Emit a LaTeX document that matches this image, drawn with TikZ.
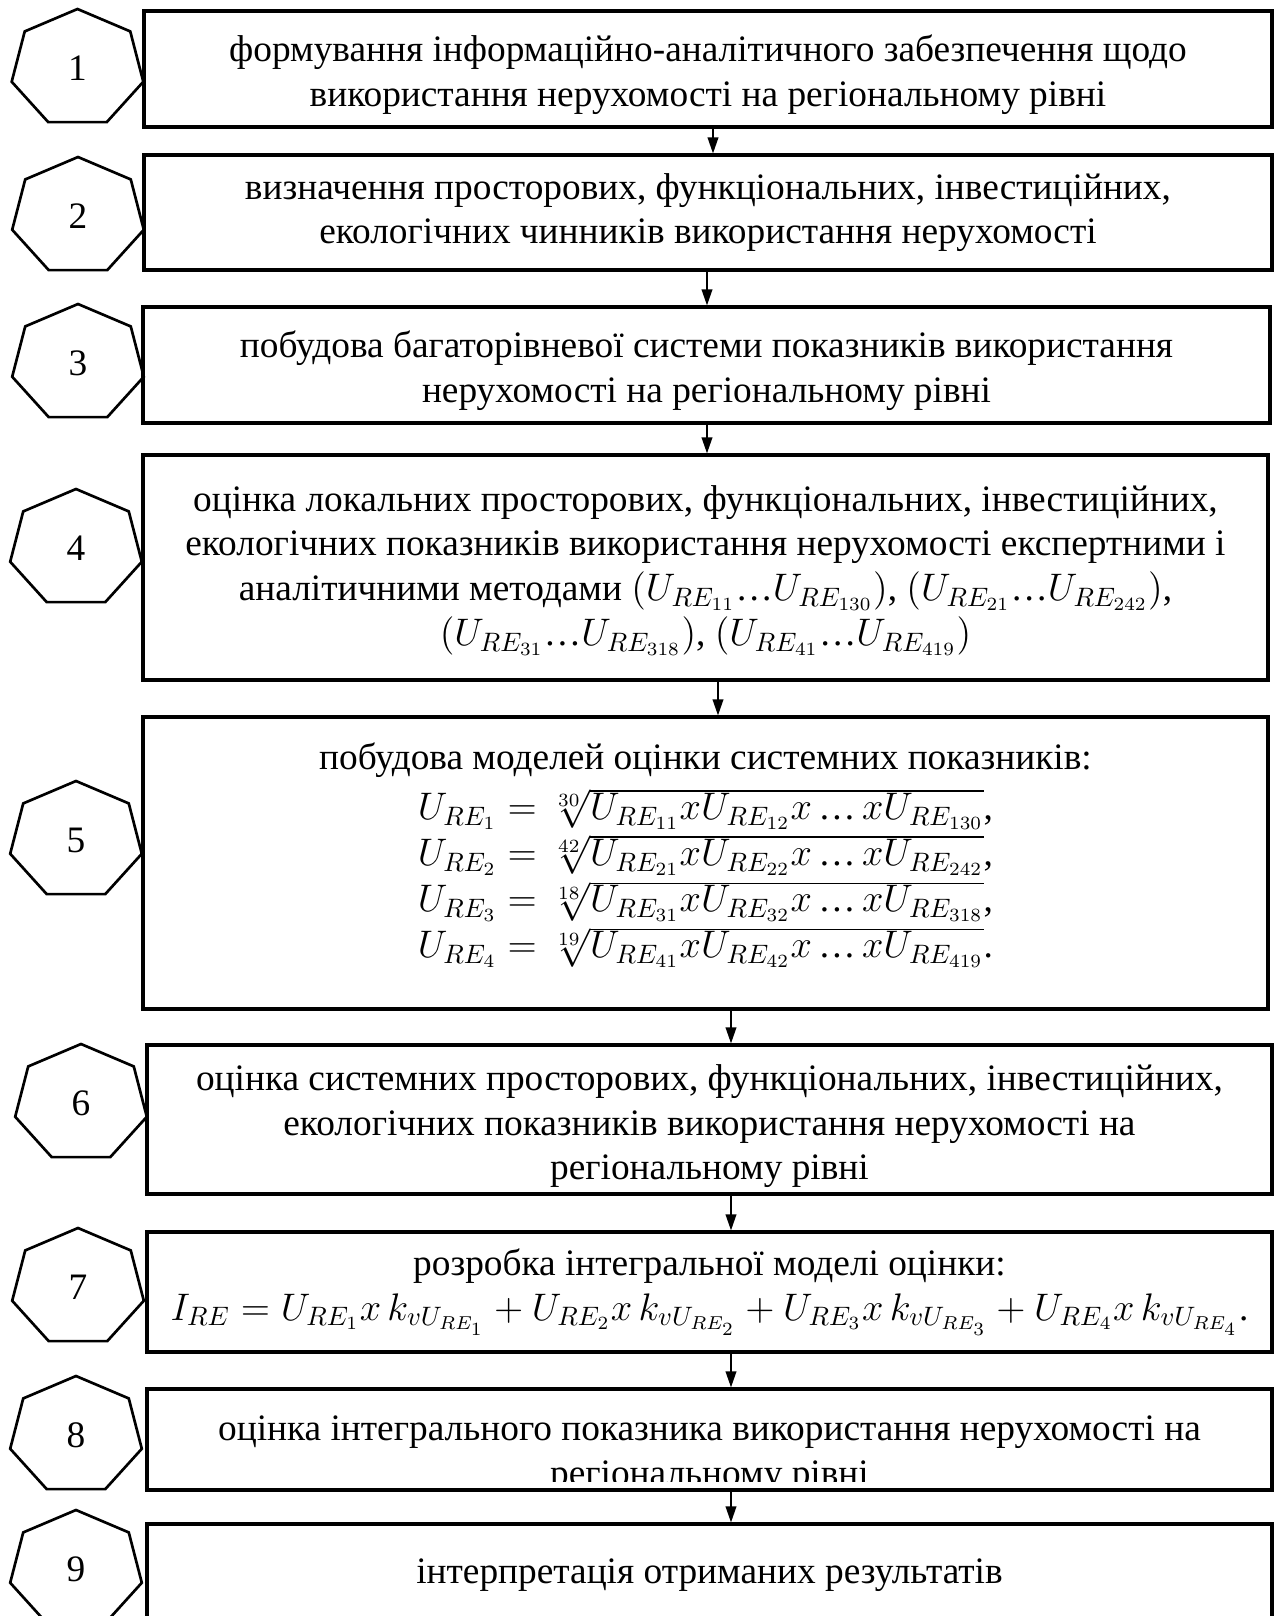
\documentclass[tikz,border=0pt]{standalone}
\usepackage{fontspec}
\setmainfont{Liberation Serif}
\usetikzlibrary{arrows.meta}
\newcommand{\dts}{\mbox{…}}
\tikzset{
  stage/.style={draw, line width=1.2pt, inner sep=0pt},
  txt/.style={align=center, inner sep=0pt},
  hept/.style={line width=1pt, line join=miter},
}
\begin{document}
\begin{tikzpicture}[x=0.375pt, y=-0.375pt, >={Triangle[length=6pt,width=4pt]},
  font=\fontsize{14}{16.8}\selectfont]
\clip (0,0) rectangle (1274,1616);
% numbered heptagons
\foreach \n/\cx/\cy in {1/77.5/68.5, 2/78/216.5, 3/78/363.5, 4/76/548.5, 5/76/840.5,
  6/81/1103.5, 7/78/1287.5, 8/76/1435.5, 9/76/1569.5}{
  \draw[hept] plot[samples at={0,...,6}, variable=\k]
    ({\cx+67.5*cos(90+\k*360/7)}, {\cy-59.5*sin(90+\k*360/7)}) -- cycle;
  \node (h\n) at (\cx,\cy) {\n};
}
% stage boxes
\node[stage, minimum width=423pt, minimum height=43.5pt] (b1) at (708,69) {};
\node[stage, minimum width=423pt, minimum height=43.1pt] (b2) at (708,212.5) {};
\node[stage, minimum width=422.6pt, minimum height=43.5pt] (b3) at (706.5,365) {};
\node[stage, minimum width=421.9pt, minimum height=84.4pt] (b4) at (705.5,567.5) {};
\node[stage, minimum width=421.9pt, minimum height=109.5pt] (b5) at (705.5,863) {};
\node[stage, minimum width=421.9pt, minimum height=55.9pt] (b6) at (709.5,1119.5) {};
\node[stage, minimum width=421.9pt, minimum height=45pt] (b7) at (709.5,1292) {};
\node[stage, minimum width=421.9pt, minimum height=37.9pt] (b8) at (709.5,1439.5) {};
\node[stage, minimum width=421.9pt, minimum height=38.25pt] (b9) at (709.5,1575) {};
% stage texts
\node[txt] (t1) at ([yshift=-2pt]b1.center)
  {формування інформаційно-аналітичного забезпечення щодо\\
   використання нерухомості на регіональному рівні};
\node[txt] (t2) at (b2.center)
  {визначення просторових, функціональних, інвестиційних,\\
   екологічних чинників використання нерухомості};
\node[txt] (t3) at ([yshift=-2pt]b3.center)
  {побудова багаторівневої системи показників використання\\
   нерухомості на регіональному рівні};
\node[txt] (t4) at ([yshift=-1pt]b4.center)
  {оцінка локальних просторових, функціональних, інвестиційних,\\
   екологічних показників використання нерухомості експертними і\\
   аналітичними методами $(U_{RE_{11}}\dts U_{RE_{130}})$, $(U_{RE_{21}}\dts U_{RE_{242}})$,\\
   $(U_{RE_{31}}\dts U_{RE_{318}})$, $(U_{RE_{41}}\dts U_{RE_{419}})$};
\node[txt] (t5) at ([yshift=3pt]b5.center)
  {побудова моделей оцінки системних показників:\\[2pt]
   $U_{RE_1} = \sqrt[30]{U_{RE_{11}}xU_{RE_{12}}x\,\dts\,xU_{RE_{130}}}$,\\[0.5pt]
   $U_{RE_2} = \sqrt[42]{U_{RE_{21}}xU_{RE_{22}}x\,\dts\,xU_{RE_{242}}}$,\\[0.5pt]
   $U_{RE_3} = \sqrt[18]{U_{RE_{31}}xU_{RE_{32}}x\,\dts\,xU_{RE_{318}}}$,\\[0.5pt]
   $U_{RE_4} = \sqrt[19]{U_{RE_{41}}xU_{RE_{42}}x\,\dts\,xU_{RE_{419}}}$.};
\node[txt] (t6) at ([yshift=-2.5pt]b6.center)
  {оцінка системних просторових, функціональних, інвестиційних,\\
   екологічних показників використання нерухомості на\\
   регіональному рівні};
\node[txt] (t7) at (b7.center)
  {розробка інтегральної моделі оцінки:\\
   $I_{RE} = U_{RE_1}x\,k_{vU_{RE_1}} + U_{RE_2}x\,k_{vU_{RE_2}} + U_{RE_3}x\,k_{vU_{RE_3}} + U_{RE_4}x\,k_{vU_{RE_4}}$.};
\begin{scope}
  \clip (b8.north west) rectangle ([yshift=3.75pt]b8.south east);
  \node[txt, anchor=north] (t8) at ([yshift=-10.4pt]b8.north)
    {оцінка інтегрального показника використання нерухомості на\\
     регіональному рівні};
\end{scope}
\node[txt] (t9) at (b9.center) {інтерпретація отриманих результатів};
% arrows
\foreach \a/\b/\x in {b1/b2/713, b2/b3/707, b3/b4/707, b4/b5/718,
  b5/b6/731, b6/b7/731, b7/b8/731, b8/b9/731}
  \draw[->, line width=0.6pt] (\a.south -| \x,0) -- (\b.north -| \x,0);
\end{tikzpicture}
\end{document}
